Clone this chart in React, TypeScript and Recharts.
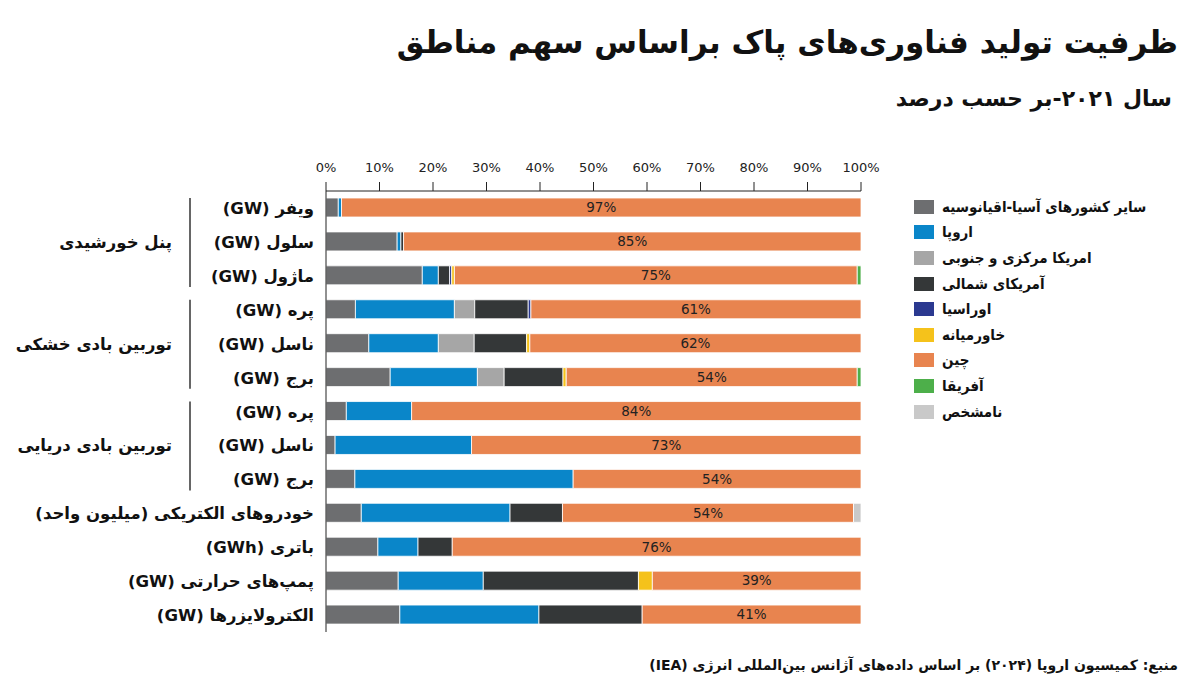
import { BarChart, Bar, XAxis, YAxis, Legend, LabelList } from "recharts";

const FONT = "'DejaVu Sans', sans-serif";
const FONT_COND = "'DejaVu Sans Condensed', 'DejaVu Sans', sans-serif";

// row labels, top to bottom
const categories = [
  "ویفر (GW)",
  "سلول (GW)",
  "ماژول (GW)",
  "پره (GW)",
  "ناسل (GW)",
  "برج (GW)",
  "پره (GW)",
  "ناسل (GW)",
  "برج (GW)",
  "خودروهای الکتریکی (میلیون واحد)",
  "باتری (GWh)",
  "پمپ‌های حرارتی (GW)",
  "الکترولایزرها (GW)",
];

// group brackets: label + index of the middle row
const groups = [
  { label: "پنل خورشیدی", mid: 1 },
  { label: "توربین بادی خشکی", mid: 4 },
  { label: "توربین بادی دریایی", mid: 7 },
];

// share per region (%), same order as categories
const asiaPacific = [2.3, 13.3, 18, 5.5, 8, 12, 3.8, 1.7, 5.4, 6.6, 9.7, 13.5, 13.8];
const europe = [0.6, 0.7, 3, 18.5, 13, 16.3, 12.2, 25.5, 40.8, 27.8, 7.5, 15.9, 26];
const latinAmerica = [0, 0, 0, 3.8, 6.7, 5, 0, 0, 0, 0, 0, 0, 0];
const northAmerica = [0, 0.5, 2.1, 10, 9.8, 11, 0, 0, 0, 9.8, 6.4, 29, 19.3];
const eurasia = [0, 0, 0.4, 0.5, 0, 0, 0, 0, 0, 0, 0, 0, 0];
const middleEast = [0, 0, 0.5, 0, 0.6, 0.6, 0, 0, 0, 0, 0, 2.6, 0];
const china = [97.1, 85.5, 75.3, 61.7, 61.9, 54.4, 84, 72.8, 53.8, 54.4, 76.4, 39, 40.9];
const africa = [0, 0, 0.7, 0, 0, 0.7, 0, 0, 0, 0, 0, 0, 0];
const unknown = [0, 0, 0, 0, 0, 0, 0, 0, 0, 1.4, 0, 0, 0];

// printed labels on the china segment
const chinaLabels = [97, 85, 75, 61, 62, 54, 84, 73, 54, 54, 76, 39, 41];

const xTicks = [0, 10, 20, 30, 40, 50, 60, 70, 80, 90, 100];

const series = [
  { key: "asiaPacific", name: "سایر کشورهای آسیا-اقیانوسیه", color: "#6d6e70", values: asiaPacific },
  { key: "europe", name: "اروپا", color: "#0a86c9", values: europe },
  { key: "latinAmerica", name: "امریکا مرکزی و جنوبی", color: "#a6a6a6", values: latinAmerica },
  { key: "northAmerica", name: "آمریکای شمالی", color: "#343738", values: northAmerica },
  { key: "eurasia", name: "اوراسیا", color: "#2b3990", values: eurasia },
  { key: "middleEast", name: "خاورمیانه", color: "#f5c21b", values: middleEast },
  { key: "china", name: "چین", color: "#e8844f", values: china },
  { key: "africa", name: "آفریقا", color: "#4daf4a", values: africa },
  { key: "unknown", name: "نامشخص", color: "#c9c9c9", values: unknown },
];

const data = categories.map((name, i) => {
  const row: Record<string, string | number> = { name, idx: i, chinaLabel: chinaLabels[i] };
  series.forEach((s) => {
    row[s.key] = s.values[i];
  });
  return row;
});

function PercentTick(props: any) {
  const { x, payload } = props;
  return (
    <text x={x} y={172} textAnchor="middle" fontFamily={FONT} fontSize={13} fill="#222">
      {`${payload.value}%`}
    </text>
  );
}

function CategoryTick(props: any) {
  const { x, y, payload, index } = props;
  const group = groups.find((g) => g.mid === index);
  return (
    <g>
      <text
        x={x - 4}
        y={y}
        dy={6}
        direction="rtl"
        textAnchor="start"
        fontFamily={FONT}
        fontWeight="bold"
        fontSize={16.5}
        fill="#111"
      >
        {payload.value}
      </text>
      {group && (
        <>
          <line x1={190} x2={190} y1={y - 44} y2={y + 45} stroke="#333" strokeWidth={1.5} />
          <text
            x={172}
            y={y}
            dy={6}
            direction="rtl"
            textAnchor="start"
            fontFamily={FONT}
            fontWeight="bold"
            fontSize={16.5}
            fill="#111"
          >
            {group.label}
          </text>
        </>
      )}
    </g>
  );
}

function LegendBox(props: any) {
  const order = series.map((s) => s.name);
  const items = [...(props.payload || [])].sort(
    (a: any, b: any) => order.indexOf(a.value) - order.indexOf(b.value)
  );
  return (
    <div style={{ fontFamily: FONT_COND, fontWeight: "bold", fontSize: 15, color: "#111" }}>
      {items.map((p: any) => (
        <div key={p.value} style={{ display: "flex", alignItems: "center", height: 25.6 }}>
          <span style={{ width: 20, height: 14, background: p.color, marginRight: 8, flex: "none" }} />
          <span style={{ direction: "rtl" }}>{p.value}</span>
        </div>
      ))}
    </div>
  );
}

export default function App() {
  return (
    <div style={{ position: "relative", width: 1200, height: 698, margin: -8, background: "#fff" }}>
      <div
        style={{
          position: "absolute",
          right: 22,
          top: 24,
          direction: "rtl",
          fontFamily: FONT,
          fontWeight: "bold",
          fontSize: 31,
          color: "#111",
        }}
      >
        ظرفیت تولید فناوری‌های پاک براساس سهم مناطق
      </div>
      <div
        style={{
          position: "absolute",
          right: 28,
          top: 86,
          direction: "rtl",
          fontFamily: FONT,
          fontWeight: "bold",
          fontSize: 22,
          color: "#111",
        }}
      >
        سال ۲۰۲۱-بر حسب درصد
      </div>

      <BarChart
        width={1200}
        height={698}
        data={data}
        layout="vertical"
        margin={{ top: 161, right: 339, bottom: 66, left: 0 }}
        barSize={19}
      >
        <XAxis
          type="number"
          orientation="top"
          domain={[0, 100]}
          ticks={xTicks}
          interval={0}
          height={30}
          axisLine={{ stroke: "#222" }}
          tickLine={{ stroke: "#222" }}
          tickSize={9}
          tick={<PercentTick />}
        />
        <YAxis
          type="category"
          dataKey="name"
          width={326}
          interval={0}
          axisLine={{ stroke: "#222" }}
          tickLine={false}
          tick={<CategoryTick />}
        />
        <Legend
          layout="horizontal"
          verticalAlign="middle"
          align="center"
          content={<LegendBox />}
          wrapperStyle={{ left: 914, top: 194, width: 270 }}
        />
        {series.map((s) => (
          <Bar
            key={s.key}
            dataKey={s.key}
            name={s.name}
            stackId="a"
            fill={s.color}
            stroke="#fff"
            strokeWidth={0.8}
            isAnimationActive={false}
          >
            {s.key === "china" && (
              <LabelList
                dataKey="chinaLabel"
                position="center"
                formatter={(v: any) => `${v}%`}
                style={{ fontFamily: FONT, fontSize: 13.5, fill: "#222" }}
              />
            )}
          </Bar>
        ))}
      </BarChart>

      <div
        style={{
          position: "absolute",
          right: 22,
          top: 657,
          direction: "rtl",
          fontFamily: FONT,
          fontWeight: "bold",
          fontSize: 14,
          color: "#111",
        }}
      >
        منبع: کمیسیون اروپا (۲۰۲۴) بر اساس داده‌های آژانس بین‌المللی انرژی (IEA)
      </div>
    </div>
  );
}
